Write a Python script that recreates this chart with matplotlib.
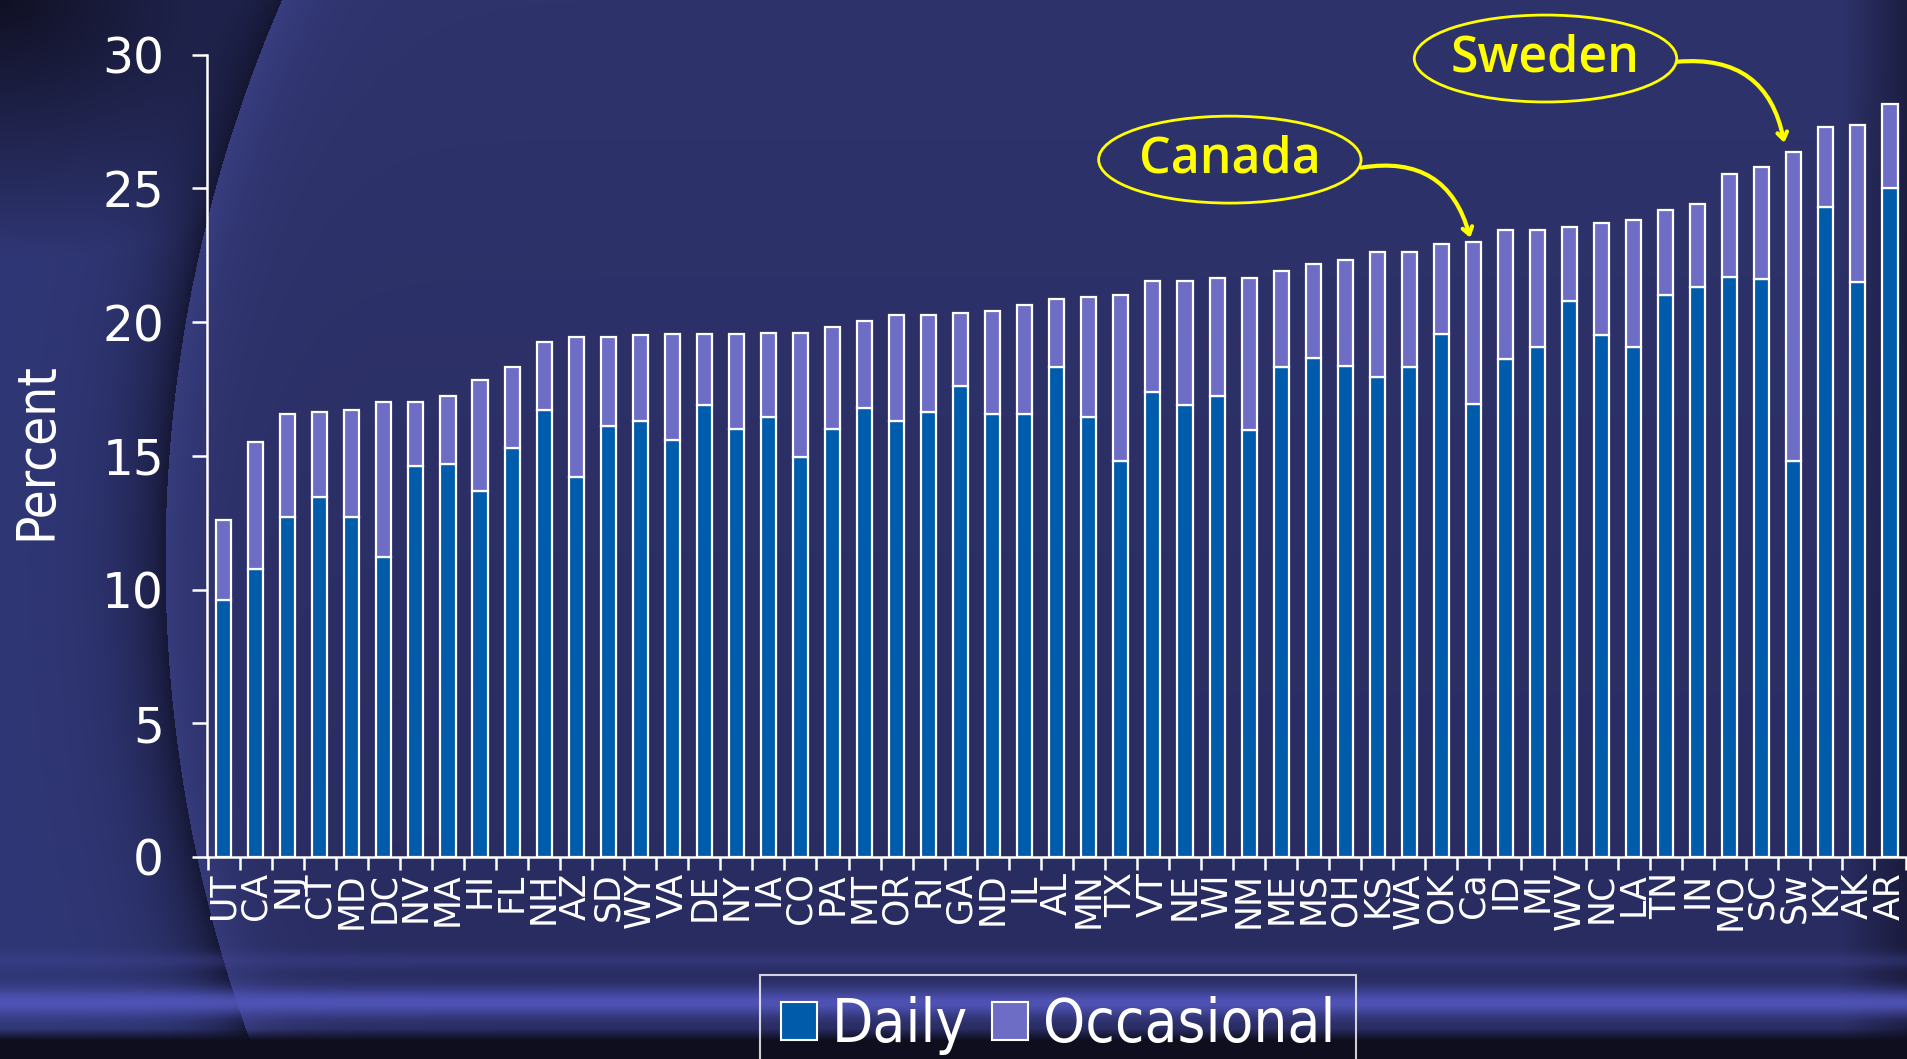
import matplotlib
matplotlib.use("Agg")
import matplotlib.pyplot as plt
import numpy as np
from matplotlib.patches import Ellipse, Patch

# data (percent)
states = ["UT", "CA", "NJ", "CT", "MD", "DC", "NV", "MA", "HI", "FL", "NH", "AZ",
          "SD", "WY", "VA", "DE", "NY", "IA", "CO", "PA", "MT", "OR", "RI", "GA",
          "ND", "IL", "AL", "MN", "TX", "VT", "NE", "WI", "NM", "ME", "MS", "OH",
          "KS", "WA", "OK", "Ca", "ID", "MI", "WV", "NC", "LA", "TN", "IN", "MO",
          "SC", "Sw", "KY", "AK", "AR"]
daily = [9.6, 10.75, 12.7, 13.45, 12.7, 11.2, 14.6, 14.7, 13.7, 15.3, 16.7, 14.2,
         16.1, 16.3, 15.6, 16.9, 16.0, 16.45, 14.95, 16.0, 16.8, 16.3, 16.65, 17.6,
         16.55, 16.55, 18.3, 16.45, 14.8, 17.4, 16.9, 17.25, 15.95, 18.3, 18.65, 18.35,
         17.95, 18.3, 19.55, 16.95, 18.6, 19.05, 20.8, 19.5, 19.05, 21.0, 21.3, 21.7,
         21.6, 14.8, 24.3, 21.5, 25.0]
occasional = [3.0, 4.75, 3.85, 3.2, 4.0, 5.8, 2.4, 2.55, 4.15, 3.0, 2.55, 5.25,
              3.35, 3.2, 3.95, 2.65, 3.55, 3.15, 4.65, 3.8, 3.25, 3.95, 3.6, 2.75,
              3.85, 4.1, 2.55, 4.5, 6.2, 4.15, 4.65, 4.4, 5.7, 3.6, 3.5, 3.95,
              4.65, 4.3, 3.35, 6.05, 4.85, 4.4, 2.75, 4.2, 4.75, 3.2, 3.1, 3.85,
              4.2, 11.55, 3.0, 5.85, 3.15]
y_ticks = [0, 5, 10, 15, 20, 25, 30]

DAILY_COL = "#005caa"
OCC_COL = "#6d6dc6"
YELLOW = "#ffff00"

W, H = 1907, 1059
fig = plt.figure(figsize=(W / 100, H / 100), dpi=100)


def mix(img, w, col):
    w = w[..., None]
    return img * (1 - w) + w * np.array(col) / 255


# background: navy slide with a huge lit disc and a light streak at the bottom
yy, xx = np.mgrid[0:H, 0:W].astype(float)
img = np.ones((H, W, 3)) * np.array([46, 51, 108]) / 255
img = mix(img, np.clip(yy / 900, 0, 1) * 0.5, (36, 38, 86))
dist = np.hypot(xx - 1570, yy - 560) - 1405
inside = dist < 0
img = mix(img, np.exp(np.clip(dist, -800, 0) / 40) * inside * 0.5, (66, 72, 148))
out = ~inside
img[out] = (np.array([48, 55, 118]) / 255)
img = mix(img, np.exp(-np.clip(dist, 0, None) / 40) * out * 0.75, (14, 14, 34))
img = mix(img, np.clip(1 - np.hypot(xx / 380, yy / 260), 0, 1) * out, (16, 16, 36))
img = mix(img, np.clip((xx - 1840) / 67, 0, 1) * 0.6, (16, 16, 36))
img = mix(img, np.exp(-((yy - 960) / 8) ** 2) * 0.4, (64, 68, 150))
img = mix(img, np.exp(-((yy - 1002) / 14) ** 2) * 0.9, (82, 86, 188))
img = mix(img, np.clip((yy - 1028) / 12, 0, 1), (14, 14, 30))
bg = fig.add_axes([0, 0, 1, 1], zorder=-10)
bg.imshow(np.clip(img, 0, 1), aspect="auto", extent=(0, 1, 0, 1))
bg.axis("off")

ax = fig.add_axes([207 / W, 1 - 857 / H, 1699 / W, (857 - 54.5) / H])
ax.patch.set_alpha(0)
x = np.arange(len(states))
ax.bar(x, daily, width=0.47, color=DAILY_COL, edgecolor="white", linewidth=1.6)
ax.bar(x, occasional, bottom=daily, width=0.47, color=OCC_COL, edgecolor="white", linewidth=1.6)
ax.set_xlim(-0.52, len(states) - 1 + 0.42)
ax.set_ylim(0, 30)

for s in ["top", "right"]:
    ax.spines[s].set_visible(False)
for s in ["left", "bottom"]:
    ax.spines[s].set_color("white")
    ax.spines[s].set_linewidth(1.8)

ax.set_yticks(y_ticks)
ax.tick_params(axis="y", length=11, width=1.8, color="white", labelcolor="white",
               labelsize=35, pad=20)
ax.set_xticks(np.arange(-0.5, len(states)), labels=[])
ax.set_xticks(x, labels=states, minor=True, rotation=90)
ax.tick_params(axis="x", which="major", length=9, width=1.8, color="white")
ax.tick_params(axis="x", which="minor", length=0, pad=11, labelsize=25, labelcolor="white")

fig.text(36 / W, 1 - 451 / H, "Percent", rotation=90, ha="center", va="center",
         color="white", fontsize=38, family="DejaVu Sans", fontstretch="condensed")

# callouts
for label, cx, cy, start, tip in [("Canada", 31.4, 26.07, (35.5, 25.77), (38.9, 23.15)),
                                   ("Sweden", 41.25, 29.85, (45.36, 29.73), (48.7, 26.7))]:
    ax.add_patch(Ellipse((cx, cy), 8.19, 3.25, facecolor="none", edgecolor=YELLOW,
                         linewidth=2, clip_on=False))
    ax.text(cx, cy, label, ha="center", va="center", color=YELLOW, fontsize=36,
            family=["Open Sans", "DejaVu Sans"], fontweight="semibold", clip_on=False)
    ax.annotate("", xy=tip, xytext=start, annotation_clip=False,
                arrowprops=dict(arrowstyle="->,head_length=0.5,head_width=0.35",
                                color=YELLOW, lw=3, connectionstyle="arc3,rad=-0.45",
                                shrinkA=0, shrinkB=0))

handles = [Patch(facecolor=DAILY_COL, edgecolor="white", linewidth=1.5),
           Patch(facecolor=OCC_COL, edgecolor="white", linewidth=1.5)]
leg = fig.legend(handles, ["Daily", "Occasional"], loc="upper center",
                 bbox_to_anchor=(1058 / W, 1 - 975 / H), ncol=2, frameon=True,
                 fancybox=False, edgecolor="white", facecolor="none",
                 prop=dict(family="DejaVu Sans", stretch="condensed", size=43),
                 labelcolor="white", handlelength=0.6, handleheight=0.6,
                 handletextpad=0.25, columnspacing=0.4, borderpad=0.35, borderaxespad=0)
leg.get_frame().set_linewidth(1.5)

fig.savefig("out.png", dpi=100)
